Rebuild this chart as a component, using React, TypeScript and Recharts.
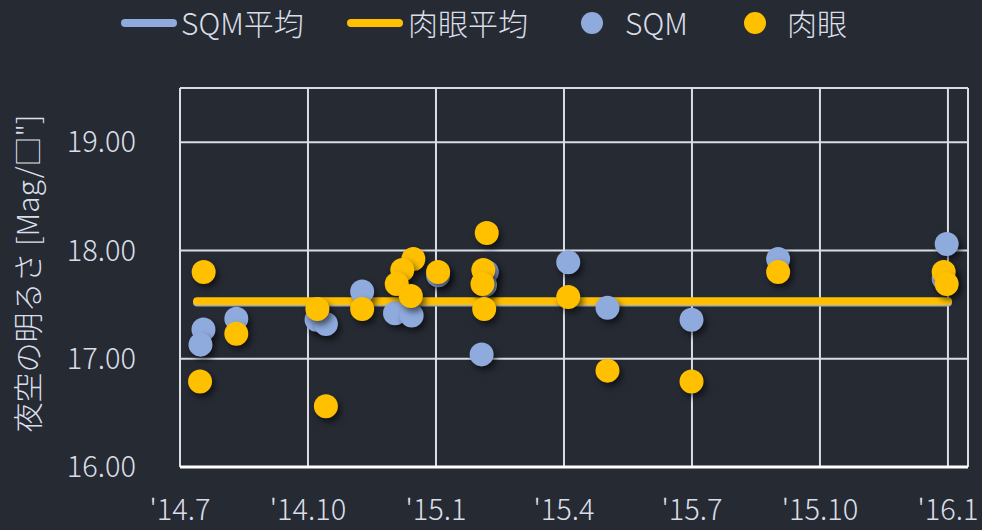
import React from "react";
import { ScatterChart, Scatter, XAxis, YAxis, CartesianGrid } from "recharts";

// x values are months counted from July 2014
const xTicks = [0, 3, 6, 9, 12, 15, 18];
const xTickLabels = ["'14.7", "'14.10", "'15.1", "'15.4", "'15.7", "'15.10", "'16.1"];
const yTicks = [16, 17, 18, 19];

const sqmMonth = [0.55, 0.48, 1.32, 3.2, 3.42, 4.27, 5.04, 5.43, 6.05, 7.19, 7.15, 7.07, 9.1, 10.02, 11.99, 14.02, 17.97, 17.9];
const sqmValue = [17.27, 17.13, 17.37, 17.36, 17.32, 17.62, 17.42, 17.4, 17.77, 17.8, 17.68, 17.04, 17.89, 17.47, 17.36, 17.92, 18.06, 17.74];

const eyeMonth = [0.555, 0.47, 1.32, 3.22, 3.42, 4.27, 5.47, 5.21, 5.08, 5.41, 6.05, 7.19, 7.11, 7.09, 7.13, 9.1, 10.02, 11.99, 14.02, 17.9, 17.97];
const eyeValue = [17.8, 16.79, 17.23, 17.46, 16.56, 17.46, 17.92, 17.82, 17.69, 17.58, 17.8, 18.16, 17.82, 17.69, 17.46, 17.57, 16.89, 16.79, 17.8, 17.8, 17.69];

const avgMonth = [0.4, 18];
const sqmAvg = 17.52;
const eyeAvg = 17.53;

const BLUE = "#8faadc";
const YELLOW = "#ffc000";
const TEXT = "#d9dee8";
const GRID = "#d9dde6";
const BG = "#262a33";
const FONT = "'Noto Sans CJK JP', 'Noto Sans', sans-serif";

const sqmData = sqmMonth.map((m, i) => ({ x: m, y: sqmValue[i] }));
const eyeData = eyeMonth.map((m, i) => ({ x: m, y: eyeValue[i] }));
const sqmAvgData = avgMonth.map((m) => ({ x: m, y: sqmAvg }));
const eyeAvgData = avgMonth.map((m) => ({ x: m, y: eyeAvg }));

const dot = (color: string) => (props: any) => (
  <circle
    cx={props.cx}
    cy={props.cy}
    r={12}
    fill={color}
    style={{ filter: "drop-shadow(3px 4px 3px rgba(0,0,0,0.55))" }}
  />
);

const noDot = () => <g />;

function Legend() {
  const textStyle: React.CSSProperties = {
    position: "absolute",
    top: 2,
    fontSize: 30,
    fontWeight: 300,
    color: TEXT,
    fontFamily: FONT,
    lineHeight: "40px",
    whiteSpace: "nowrap",
  };
  const lineIcon = (left: number, color: string): React.CSSProperties => ({
    position: "absolute",
    left,
    top: 19,
    width: 56,
    height: 8,
    borderRadius: 4,
    background: color,
  });
  const circleIcon = (cx: number, color: string): React.CSSProperties => ({
    position: "absolute",
    left: cx - 11,
    top: 12,
    width: 22,
    height: 22,
    borderRadius: 11,
    background: color,
  });
  return (
    <div style={{ position: "absolute", left: 0, top: 0, width: 982, height: 50 }}>
      <div style={lineIcon(121, BLUE)} />
      <div style={{ ...textStyle, left: 181 }}>SQM平均</div>
      <div style={lineIcon(347, YELLOW)} />
      <div style={{ ...textStyle, left: 408 }}>肉眼平均</div>
      <div style={circleIcon(592, BLUE)} />
      <div style={{ ...textStyle, left: 625 }}>SQM</div>
      <div style={circleIcon(755, YELLOW)} />
      <div style={{ ...textStyle, left: 787 }}>肉眼</div>
    </div>
  );
}

export default function App() {
  return (
    <div
      style={{
        position: "absolute",
        left: 0,
        top: 0,
        width: 982,
        height: 530,
        background: BG,
        overflow: "hidden",
      }}
    >
      <Legend />
      <ScatterChart
        width={982}
        height={530}
        margin={{ top: 88, right: 14, bottom: 0, left: 0 }}
        style={{ fontFamily: FONT, fontWeight: 300 }}
      >
        <CartesianGrid stroke={GRID} strokeWidth={2} />
        <XAxis
          type="number"
          dataKey="x"
          domain={[0, 18.47]}
          ticks={xTicks}
          allowDataOverflow
          height={63}
          tickLine={false}
          tickSize={0}
          tickMargin={32}
          axisLine={{ stroke: "#ffffff", strokeWidth: 3 }}
          tick={{ fill: TEXT, fontSize: 29 }}
          tickFormatter={(v: number) => xTickLabels[xTicks.indexOf(v)] ?? ""}
        />
        <YAxis
          type="number"
          dataKey="y"
          domain={[16, 19.5]}
          ticks={yTicks}
          allowDataOverflow
          width={180}
          axisLine={false}
          tickLine={false}
          tickSize={0}
          tickMargin={44}
          tick={{ fill: TEXT, fontSize: 29 }}
          tickFormatter={(v: number) => v.toFixed(2)}
          label={{
            value: '夜空の明るさ [Mag/□"]',
            angle: -90,
            position: "center",
            dx: -62,
            dy: -4,
            fill: TEXT,
            fontSize: 30,
          }}
        />
        <Scatter
          data={sqmAvgData}
          shape={noDot}
          line={{ stroke: BLUE, strokeWidth: 8, strokeLinecap: "round" }}
          isAnimationActive={false}
        />
        <Scatter
          data={eyeAvgData}
          shape={noDot}
          line={{ stroke: YELLOW, strokeWidth: 8, strokeLinecap: "round" }}
          isAnimationActive={false}
        />
        <Scatter data={sqmData} shape={dot(BLUE)} isAnimationActive={false} />
        <Scatter data={eyeData} shape={dot(YELLOW)} isAnimationActive={false} />
      </ScatterChart>
    </div>
  );
}
